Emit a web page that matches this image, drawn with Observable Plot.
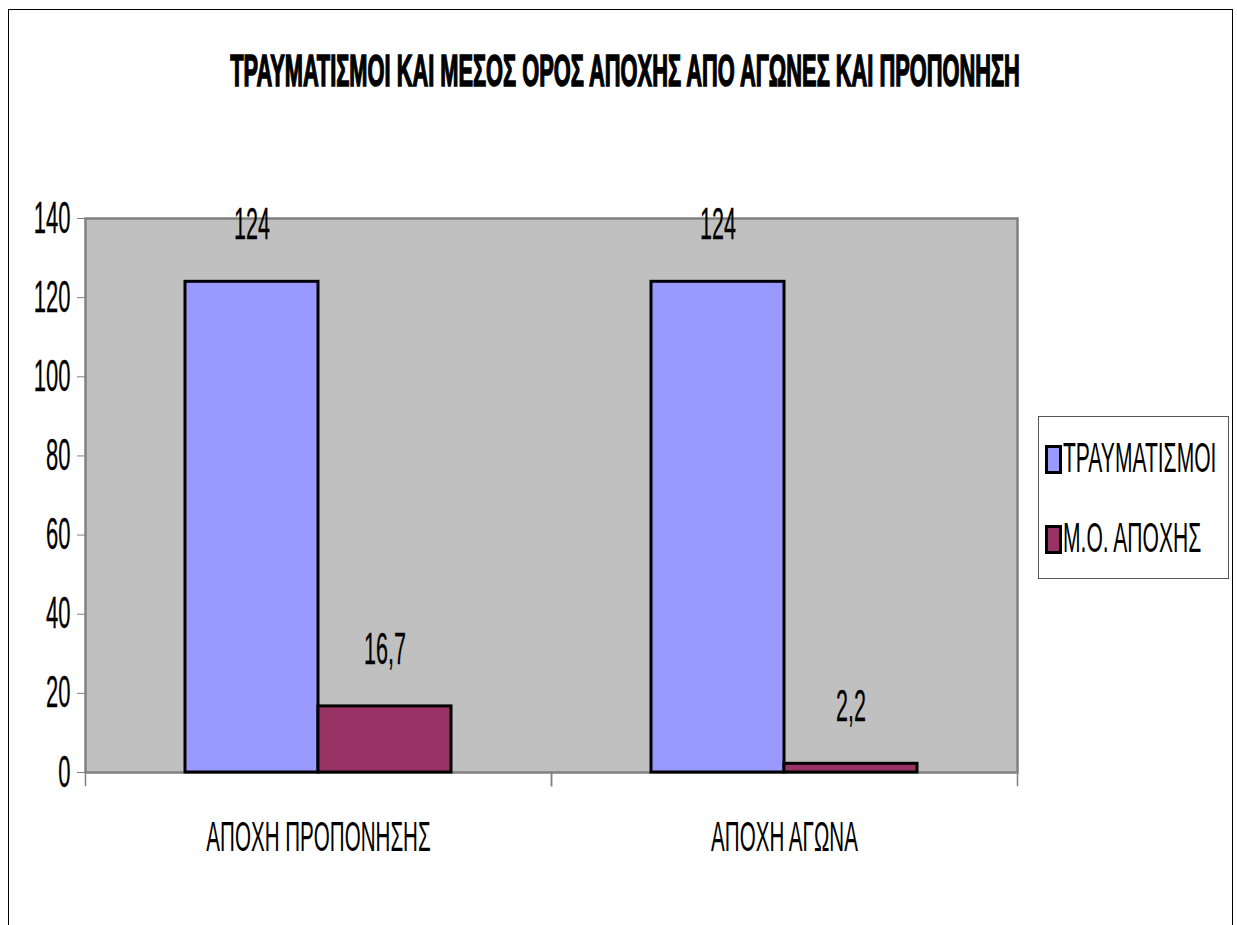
<!DOCTYPE html>
<html>
<head>
<meta charset="utf-8">
<script src="https://cdn.jsdelivr.net/npm/d3@7"></script>
<script src="https://cdn.jsdelivr.net/npm/@observablehq/plot@0.6"></script>
<style>
  html, body { margin: 0; padding: 0; background: #fff; width: 1237px; height: 925px; overflow: hidden; }
  #wrap { position: relative; width: 1237px; height: 925px; font-family: "Liberation Sans", Arial, sans-serif; }
  #border { position: absolute; left: 8px; top: 9px; width: 1225px; height: 960px; border: 1px solid #000; box-sizing: border-box; }
  #title { position: absolute; left: 0; top: 0; }
  #chart { position: absolute; left: 0; top: 120px; }
  #legend { position: absolute; left: 1038px; top: 416px; }
</style>
</head>
<body>
<div id="wrap">
  <div id="border"></div>
  <div id="title"></div>
  <div id="chart"></div>
  <div id="legend"></div>
</div>
<script>
// ---- data ----
const titleText = "ΤΡΑΥΜΑΤΙΣΜΟΙ ΚΑΙ ΜΕΣΟΣ ΟΡΟΣ ΑΠΟΧΗΣ ΑΠΟ ΑΓΩΝΕΣ ΚΑΙ ΠΡΟΠΟΝΗΣΗ";
const categories = ["ΑΠΟΧΗ ΠΡΟΠΟΝΗΣΗΣ", "ΑΠΟΧΗ ΑΓΩΝΑ"];
const series = ["ΤΡΑΥΜΑΤΙΣΜΟΙ", "Μ.Ο. ΑΠΟΧΗΣ"];
const injuries = [124, 124];
const meanAbsence = [16.7, 2.2];
const yTicks = [0, 20, 40, 60, 80, 100, 120, 140];
const colors = ["#9999FF", "#993366"];

const rows = categories.flatMap((c, i) => [
  {category: c, series: series[0], value: injuries[i]},
  {category: c, series: series[1], value: meanAbsence[i]}
]);
const fmt = v => String(v).replace(".", ",");
const FONT = "'Liberation Sans', Arial, sans-serif";

// ---- title ----
const tsvg = d3.select("#title").append("svg").attr("width", 1237).attr("height", 120);
const tText = tsvg.append("text")
  .attr("text-anchor", "middle")
  .attr("font-family", FONT).attr("font-weight", "bold").attr("font-size", 44)
  .attr("stroke", "#000").attr("stroke-width", 1.6).attr("fill", "#000")
  .text(titleText);
const tLen = tText.node().getComputedTextLength() || 1500;
tText.attr("transform", `translate(625, 86) scale(${790 / tLen}, 1)`);

// ---- chart ----
const chart = Plot.plot({
  width: 1237,
  height: 805,
  marginTop: 98,
  marginBottom: 153,
  marginLeft: 85,
  marginRight: 220,
  style: {fontFamily: FONT, background: "transparent", overflow: "visible"},
  fx: {domain: categories, padding: 0, label: null},
  x: {domain: series, paddingInner: 0, paddingOuter: 0.739, axis: null},
  y: {domain: [0, 140], label: null},
  color: {domain: series, range: colors},
  marks: [
    Plot.frame({facet: "super", fill: "#C0C0C0"}),
    Plot.frame({anchor: "left", stroke: "#808080", strokeWidth: 1.5, insetTop: 554, insetBottom: -13}),
    Plot.frame({anchor: "right", stroke: "#808080", strokeWidth: 1.5, insetTop: 554, insetBottom: -13}),
    Plot.frame({facet: "super", stroke: "#808080", strokeWidth: 2.5}),
    Plot.barY(rows, {fx: "category", x: "series", y: "value", fill: "series", stroke: "#000", strokeWidth: 3}),
    Plot.text(rows, {fx: "category", x: "series", y: "value", text: d => fmt(d.value), dy: -57, fontSize: 44, fill: "#000"}),
    Plot.axisY({ticks: yTicks, tickSize: 8, tickPadding: 7, fontSize: 44, stroke: "#808080", fill: "#000", label: null}),
    Plot.axisFx({anchor: "bottom", tickSize: 0, tickPadding: 49, fontSize: 42, fill: "#000", label: null})
  ]
});
document.getElementById("chart").appendChild(chart);

// horizontally condense text (narrow font look)
function squeeze(root, selector, k, thicken) {
  root.querySelectorAll(selector).forEach(t => {
    const tr = t.getAttribute("transform") || "";
    const x = +(t.getAttribute("x") || 0);
    t.setAttribute("transform", `${tr} translate(${x},0) scale(${k},1) translate(${-x},0)`);
    if (thicken) { t.setAttribute("stroke", "#000"); t.setAttribute("stroke-width", thicken); }
  });
}
squeeze(chart, 'g[aria-label="y-axis tick label"] text', 0.5, 0.3);
squeeze(chart, 'g[aria-label="fx-axis tick label"] text', 0.49, 0);
squeeze(chart, 'g[aria-label="text"] text', 0.49, 0.3);

// ---- legend ----
const lsvg = d3.select("#legend").append("svg").attr("width", 192).attr("height", 164);
lsvg.append("rect").attr("x", 0.5).attr("y", 0.5).attr("width", 190).attr("height", 162)
  .attr("fill", "#fff").attr("stroke", "#555").attr("stroke-width", 1);
const items = lsvg.selectAll("g.item").data(series).join("g")
  .attr("class", "item")
  .attr("transform", (d, i) => `translate(0, ${i * 80})`);
items.append("rect")
  .attr("x", 8.5).attr("y", 30.5).attr("width", 14).attr("height", 26)
  .attr("fill", (d, i) => colors[i]).attr("stroke", "#000").attr("stroke-width", 3);
items.append("text")
  .attr("transform", "translate(25, 56) scale(0.49,1)")
  .attr("font-family", FONT).attr("font-size", 43).attr("fill", "#000")
  .text(d => d);
</script>
</body>
</html>
